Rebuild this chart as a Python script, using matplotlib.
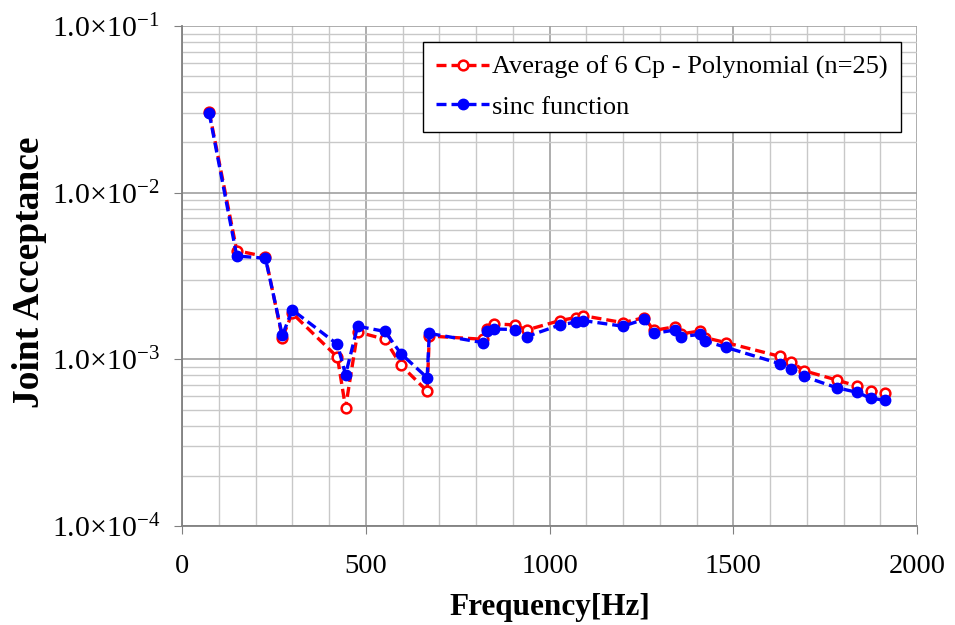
import matplotlib
matplotlib.use("Agg")
import matplotlib.pyplot as plt
from matplotlib.ticker import FixedLocator, FixedFormatter, MultipleLocator, LogLocator, NullFormatter

plt.rcParams['font.family'] = ['Liberation Serif', 'DejaVu Serif']
plt.rcParams['mathtext.fontset'] = 'custom'
plt.rcParams['mathtext.rm'] = 'Liberation Serif'
plt.rcParams['mathtext.it'] = 'Liberation Serif:italic'
plt.rcParams['mathtext.bf'] = 'Liberation Serif:bold'

freq = [74, 149, 227, 273, 300, 423, 445, 478, 552, 596, 667, 673, 818, 831, 850,
        906, 938, 1029, 1071, 1090, 1200, 1258, 1284, 1342, 1358, 1409, 1423, 1480,
        1628, 1657, 1692, 1781, 1837, 1875, 1912]

poly_avg = [0.0306, 0.00449, 0.00413, 0.00135, 0.00189, 0.00103, 0.000513, 0.00146,
            0.00132, 0.00092, 0.000645, 0.00138, 0.00132, 0.00153, 0.00163, 0.00161,
            0.00150, 0.00171, 0.00178, 0.00183, 0.00166, 0.00178, 0.00149, 0.00157,
            0.00142, 0.00148, 0.00135, 0.00126, 0.00104, 0.00097, 0.000855, 0.000752,
            0.000691, 0.000649, 0.000625]

sinc_fn = [0.0300, 0.00417, 0.00404, 0.00139, 0.00198, 0.00123, 0.000809, 0.00158,
           0.00147, 0.00108, 0.000776, 0.00143, 0.00126, 0.00147, 0.00152, 0.00151,
           0.00137, 0.00161, 0.00167, 0.00171, 0.00158, 0.00174, 0.00143, 0.00150,
           0.00137, 0.00141, 0.00129, 0.00118, 0.00094, 0.00088, 0.00079, 0.000676,
           0.000634, 0.000583, 0.000570]

series_labels = ["Average of 6 Cp - Polynomial (n=25)", "sinc function"]
y_ticks = [1e-4, 1e-3, 1e-2, 1e-1]
y_tick_labels = [r"$1.0{\times}10^{-4}$", r"$1.0{\times}10^{-3}$",
                 r"$1.0{\times}10^{-2}$", r"$1.0{\times}10^{-1}$"]
x_ticks = [0, 500, 1000, 1500, 2000]

fig = plt.figure(figsize=(9.55, 6.25), dpi=100)
ax = fig.add_axes([182/955, 1-526/625, (917-182)/955, (526-26)/625])

ax.plot(freq, poly_avg, linestyle=(0, (3, 1.5)), color='#ff0000', linewidth=2.4,
        marker='o', markersize=7, markerfacecolor='white', markeredgecolor='#ff0000',
        markeredgewidth=1.8, label=series_labels[0], zorder=3)
ax.plot(freq, sinc_fn, linestyle=(0, (3, 1.5)), color='#0000ff', linewidth=2.4,
        marker='o', markersize=7.5, markerfacecolor='#0000ff', markeredgecolor='#0000ff',
        label=series_labels[1], zorder=4)

ax.set_yscale('log')
ax.set_xlim(0, 2000)
ax.set_ylim(1e-4, 1e-1)

ax.yaxis.set_major_locator(FixedLocator(y_ticks))
ax.yaxis.set_major_formatter(FixedFormatter(y_tick_labels))
ax.yaxis.set_minor_locator(LogLocator(base=10, subs=range(2, 10)))
ax.yaxis.set_minor_formatter(NullFormatter())
ax.xaxis.set_major_locator(FixedLocator(x_ticks))
ax.xaxis.set_minor_locator(MultipleLocator(100))

ax.grid(which='major', color='#a0a0a0', linewidth=1.2, zorder=0)
ax.grid(which='minor', color='#c8c8c8', linewidth=1.0, zorder=0)
ax.set_axisbelow(True)

for s in ['top', 'right']:
    ax.spines[s].set_visible(False)
for s in ['left', 'bottom']:
    ax.spines[s].set_color('#808080')
    ax.spines[s].set_linewidth(1.3)

ax.tick_params(axis='both', which='major', direction='out', length=6, color='#808080')
ax.tick_params(axis='x', which='major', pad=14, labelsize=20.5)
ax.tick_params(axis='y', which='major', pad=10, labelsize=21.5)
ax.tick_params(axis='both', which='minor', length=0)

ax.set_xlabel("Frequency[Hz]", fontsize=22.5, fontweight='bold')
ax.set_ylabel("Joint Acceptance", fontsize=27, fontweight='bold')
ax.xaxis.set_label_coords(0.5, -0.135)
ax.yaxis.set_label_coords(-0.184, 0.507)

leg = ax.legend(loc='upper right', bbox_to_anchor=(0.985, 0.978), fontsize=19,
                frameon=True, fancybox=False, framealpha=1, edgecolor='black',
                handlelength=2.0, handletextpad=0.1, borderpad=0.5, labelspacing=0.6,
                borderaxespad=0.2)
leg.get_frame().set_linewidth(1.0)

fig.savefig("out.png", dpi=100)
